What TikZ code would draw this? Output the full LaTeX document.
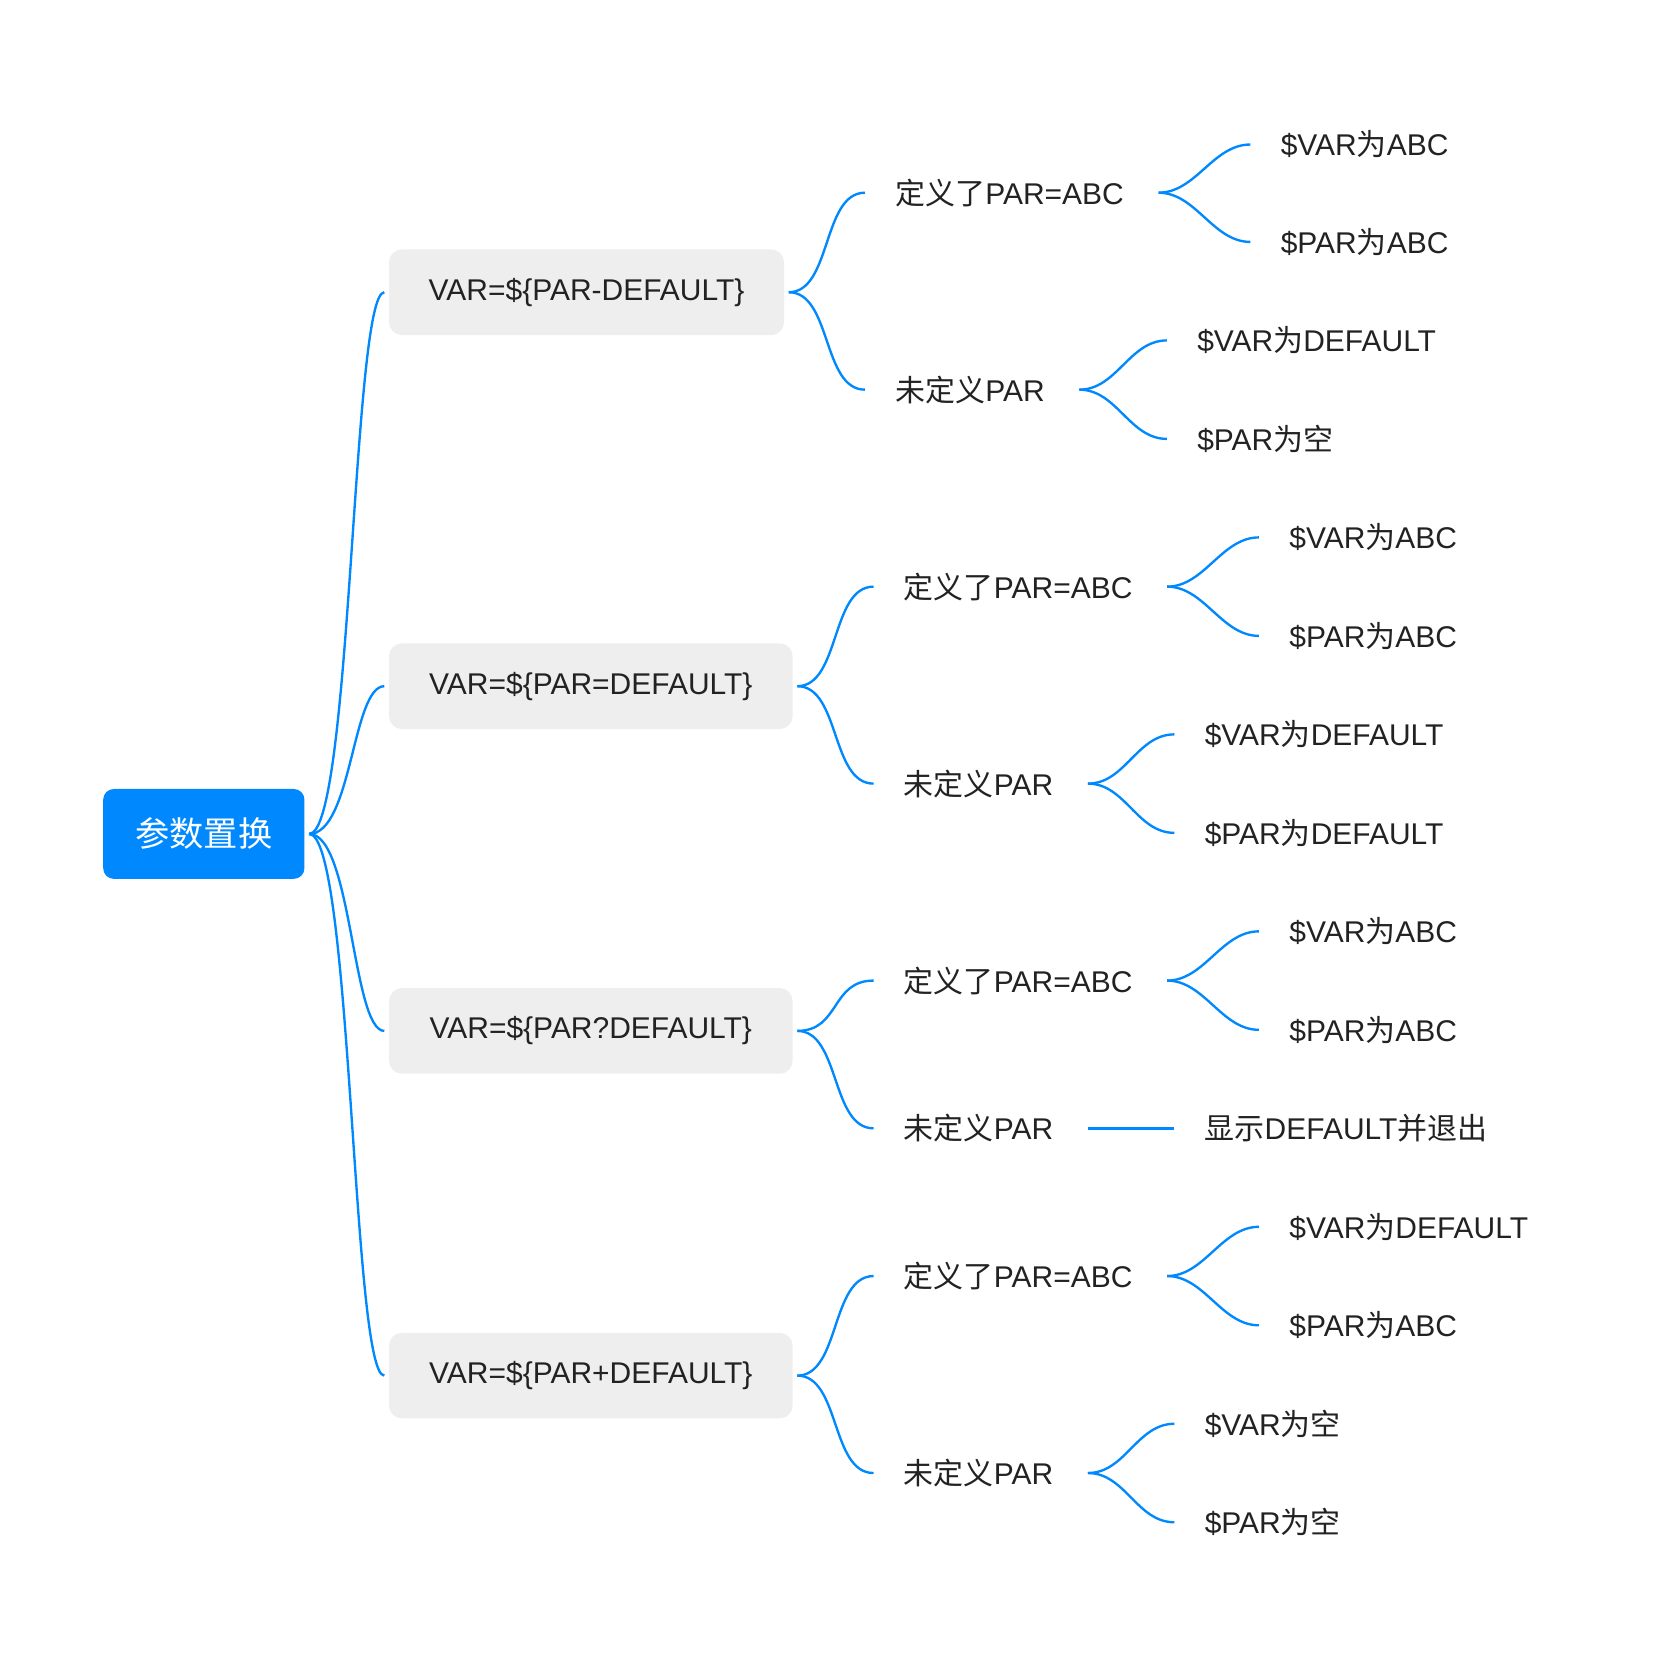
\documentclass[tikz,border=0pt]{standalone}
\usepackage{fontspec}
\setmainfont{Liberation Sans}
\newfontfamily\cjk{Noto Sans CJK SC}
\newcommand{\zh}[1]{{\cjk #1}}
\usetikzlibrary{positioning}
\definecolor{mapblue}{RGB}{0,137,255}
\definecolor{boxgray}{RGB}{238,238,238}
\definecolor{inkgray}{RGB}{34,34,34}

\begin{document}
\begin{tikzpicture}[
        x=0.5pt, y=-0.5pt,
        rootnode/.style={shape=rectangle, rounded corners=5pt, fill=mapblue, text=white, font=\cjk\fontsize{16}{18}\selectfont, minimum width=94pt, minimum height=42pt, anchor=west},
        boxnode/.style={shape=rectangle, rounded corners=6pt, fill=boxgray, text=inkgray, font=\fontsize{14}{16}\selectfont, minimum width=188.5pt, minimum height=40pt, anchor=west},
        textnode/.style={text=inkgray, font=\fontsize{14}{16}\selectfont, inner xsep=14pt, inner ysep=2pt, anchor=west},
        branch/.style={draw=mapblue, line width=1.1pt},
        ]
    \useasboundingbox (0,0) rectangle (1560,1552);

    %% Root
    \node[rootnode] (root) at (96,779) {参数置换};

    %% First level
    \node[boxnode, minimum width=184.5pt] (b1) at (363,273) {VAR=\$\{PAR-DEFAULT\}};
    \node[boxnode] (b2) at (363,641) {VAR=\$\{PAR=DEFAULT\}};
    \node[boxnode] (b3) at (363,963) {VAR=\$\{PAR?DEFAULT\}};
    \node[boxnode] (b4) at (363,1285) {VAR=\$\{PAR+DEFAULT\}};
    \foreach \b in {b1,b2,b3,b4} {
        \draw[branch] ([xshift=2pt]root.east) .. controls +(40,0) and +(-30,0) .. ([xshift=-2pt]\b.west);
    }

    %% Second level
    \node[textnode] (d1) at (808,180) {\zh{定义了}PAR=ABC};
    \node[textnode] (u1) at (808,364) {\zh{未定义}PAR};
    \node[textnode] (d2) at (816,548) {\zh{定义了}PAR=ABC};
    \node[textnode] (u2) at (816,732) {\zh{未定义}PAR};
    \node[textnode] (d3) at (816,916) {\zh{定义了}PAR=ABC};
    \node[textnode] (u3) at (816,1054) {\zh{未定义}PAR};
    \node[textnode] (d4) at (816,1192) {\zh{定义了}PAR=ABC};
    \node[textnode] (u4) at (816,1376) {\zh{未定义}PAR};
    \foreach \b/\d/\u in {b1/d1/u1, b2/d2/u2, b3/d3/u3, b4/d4/u4} {
        \draw[branch] ([xshift=2pt]\b.east) .. controls +(40,0) and +(-40,0) .. (\d.west);
        \draw[branch] ([xshift=2pt]\b.east) .. controls +(40,0) and +(-40,0) .. (\u.west);
    }

    %% Third level
    \node[textnode] (d1a) at (1168,135) {\$VAR\zh{为}ABC};
    \node[textnode] (d1b) at (1168,226) {\$PAR\zh{为}ABC};
    \node[textnode] (u1a) at (1090,318) {\$VAR\zh{为}DEFAULT};
    \node[textnode] (u1b) at (1090,410) {\$PAR\zh{为空}};
    \node[textnode] (d2a) at (1176,502) {\$VAR\zh{为}ABC};
    \node[textnode] (d2b) at (1176,594) {\$PAR\zh{为}ABC};
    \node[textnode] (u2a) at (1097,686) {\$VAR\zh{为}DEFAULT};
    \node[textnode] (u2b) at (1097,778) {\$PAR\zh{为}DEFAULT};
    \node[textnode] (d3a) at (1176,870) {\$VAR\zh{为}ABC};
    \node[textnode] (d3b) at (1176,962) {\$PAR\zh{为}ABC};
    \node[textnode] (u3a) at (1097,1054) {\zh{显示}DEFAULT\zh{并退出}};
    \node[textnode] (d4a) at (1176,1146) {\$VAR\zh{为}DEFAULT};
    \node[textnode] (d4b) at (1176,1238) {\$PAR\zh{为}ABC};
    \node[textnode] (u4a) at (1097,1330) {\$VAR\zh{为空}};
    \node[textnode] (u4b) at (1097,1422) {\$PAR\zh{为空}};
    \foreach \p/\c in {d1/d1a, d1/d1b, u1/u1a, u1/u1b, d2/d2a, d2/d2b, u2/u2a, u2/u2b,
                       d3/d3a, d3/d3b, d4/d4a, d4/d4b, u4/u4a, u4/u4b} {
        \draw[branch] ([xshift=2pt]\p.east) .. controls +(35,0) and +(-35,0) .. (\c.west);
    }
    \draw[branch] ([xshift=2pt]u3.east) -- (u3a.west);
\end{tikzpicture}
\end{document}
